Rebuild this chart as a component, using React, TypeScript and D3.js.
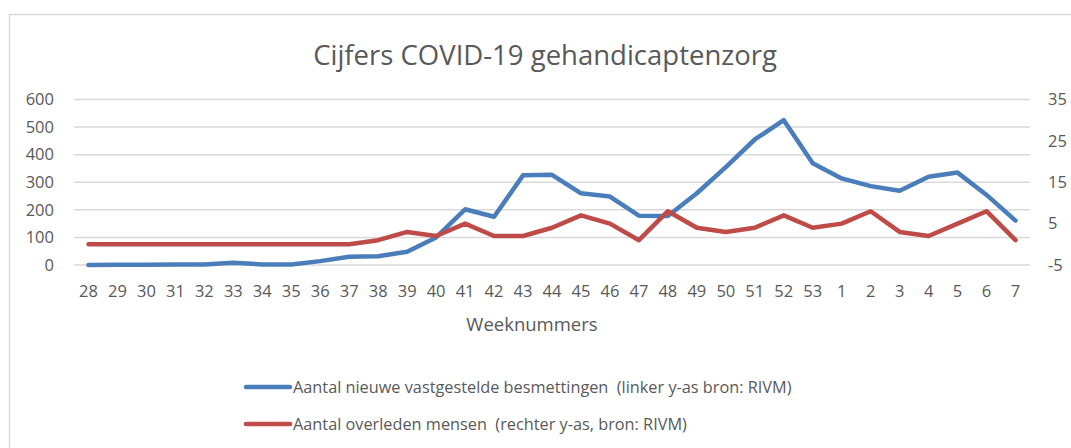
import React from "react";
import * as d3 from "d3";

const weeks = ["28","29","30","31","32","33","34","35","36","37","38","39","40","41","42","43","44","45","46","47","48","49","50","51","52","53","1","2","3","4","5","6","7"];
const infections = [0,1,1,2,2,8,2,2,14,30,32,48,100,202,175,325,327,260,248,179,178,260,355,455,525,369,314,286,269,320,335,254,161];
const deaths = [0,0,0,0,0,0,0,0,0,0,1,3,2,5,2,2,4,7,5,1,8,4,3,4,7,4,5,8,3,2,5,8,1];
const leftTicks = [0,100,200,300,400,500,600];
const rightTicks = [-5,5,15,25,35];

const W = 1071, H = 448;
const FONT = "'Open Sans', sans-serif";
const TXT = "#595959";

export default function App() {
  const x = d3.scaleBand<string>().domain(weeks).range([74, 1030]);
  const cx = (w: string) => (x(w) ?? 0) + x.bandwidth() / 2;
  const yL = d3.scaleLinear().domain([0, 600]).range([265, 99.5]);
  const yR = d3.scaleLinear().domain([-5, 35]).range([265, 99.5]);
  const lineL = d3.line<number>().x((_, i) => cx(weeks[i])).y((d) => yL(d));
  const lineR = d3.line<number>().x((_, i) => cx(weeks[i])).y((d) => yR(d));
  return (
    <svg width={W} height={H} style={{ position: "absolute", left: 0, top: 0, background: "#fff" }} fontFamily={FONT}>
      <rect x={9.5} y={14.5} width={1100} height={500} fill="#fff" stroke="#d9d9d9" strokeWidth={1.5} />
      <text x={545} y={65} textAnchor="middle" fontSize={27.5} fill={TXT}>Cijfers COVID-19 gehandicaptenzorg</text>
      {leftTicks.map((t) => (
        <g key={"l" + t}>
          <line x1={74} x2={1030} y1={yL(t)} y2={yL(t)} stroke="#d9d9d9" strokeWidth={1.5} />
          <text x={54} y={yL(t)} dy="0.35em" textAnchor="end" fontSize={16.5} fill={TXT}>{t}</text>
        </g>
      ))}
      {rightTicks.map((t) => (
        <text key={"r" + t} x={1048} y={yR(t)} dy="0.35em" textAnchor="start" fontSize={16.5} fill={TXT}>{t}</text>
      ))}
      {weeks.map((w) => (
        <text key={"w" + w} x={cx(w)} y={291} dy="0.35em" textAnchor="middle" fontSize={16.5} fill={TXT}>{w}</text>
      ))}
      <text x={532} y={325} dy="0.35em" textAnchor="middle" fontSize={18.5} fill={TXT}>Weeknummers</text>
      <path d={lineL(infections) ?? ""} fill="none" stroke="#4a7ebb" strokeWidth={4.5} strokeLinejoin="round" strokeLinecap="round" />
      <path d={lineR(deaths) ?? ""} fill="none" stroke="#be4b48" strokeWidth={4.5} strokeLinejoin="round" strokeLinecap="round" />
      <line x1={246} x2={290} y1={387} y2={387} stroke="#4a7ebb" strokeWidth={4.5} strokeLinecap="round" />
      <text x={293} y={387} dy="0.35em" fontSize={16.3} fill={TXT} style={{ whiteSpace: "pre" }}>Aantal nieuwe vastgestelde besmettingen  (linker y-as bron: RIVM)</text>
      <line x1={246} x2={290} y1={424} y2={424} stroke="#be4b48" strokeWidth={4.5} strokeLinecap="round" />
      <text x={293} y={424} dy="0.35em" fontSize={16.3} fill={TXT} style={{ whiteSpace: "pre" }}>Aantal overleden mensen  (rechter y-as, bron: RIVM)</text>
    </svg>
  );
}
